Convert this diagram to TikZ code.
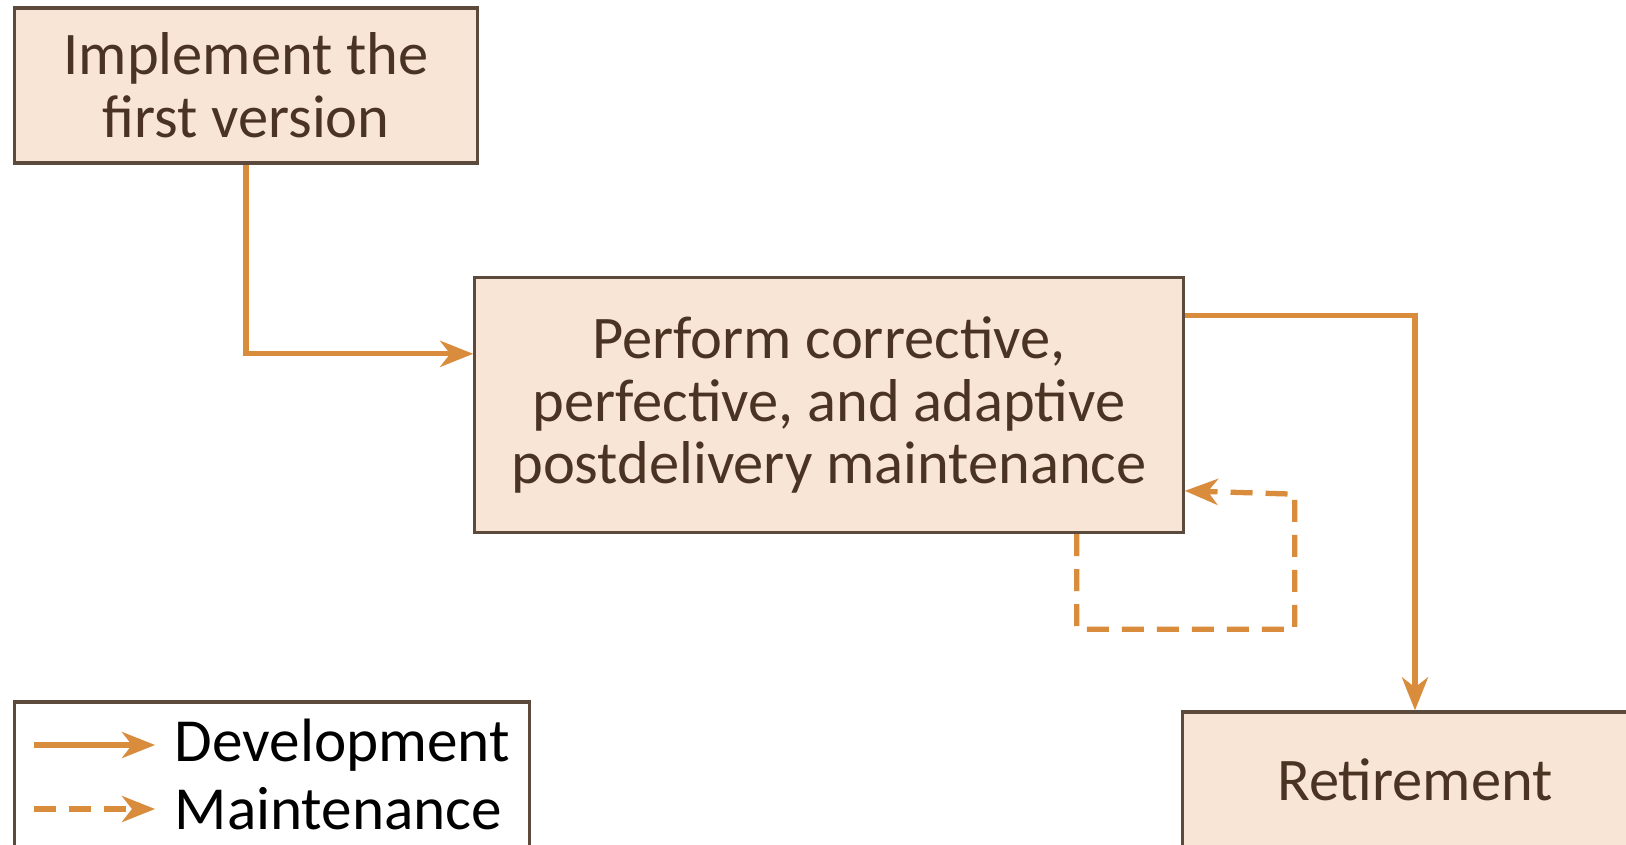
\documentclass[tikz,border=0pt]{standalone}
\usepackage{fontspec}
\setmainfont{Carlito}
\usetikzlibrary{arrows.meta,calc}

\definecolor{boxfill}{HTML}{F8E5D6}
\definecolor{boxline}{HTML}{5C4A3C}
\definecolor{flow}{HTML}{D98C3C}
\definecolor{boxtext}{HTML}{4A3322}

\tikzset{%
  every stage/.style={
    rectangle,
    draw=boxline,
    fill=boxfill,
    line width=0.9pt,
    text=boxtext,
    align=center,
    font=\fontsize{17.2}{17.9}\selectfont,
    inner sep=0pt
  },
  legend entry/.style={
    anchor=west,
    text=black,
    inner xsep=0.19cm,
    font=\fontsize{17.4}{17.9}\selectfont
  },
  dev/.style={
    draw=flow,
    line width=1.5pt,
    -{Stealth[length=3.3mm,width=2.6mm,inset=1mm]}
  },
  maint/.style={
    dev,
    dash pattern=on 2.2mm off 1.3mm
  },
}

\begin{document}
\begin{tikzpicture}[x=0.01cm, y=-0.01cm]
  \fill [white] (0,0) rectangle (1626,845);
  \useasboundingbox (0,0) rectangle (1626,845);

  \node [every stage, minimum width=4.62cm, minimum height=1.55cm] (implement) at (246,85.5)
    {Implement the\\first version};
  \node [every stage, minimum width=7.08cm, minimum height=2.55cm] (perform) at (829,405)
    {Perform corrective,\\perfective, and adaptive\\postdelivery maintenance};
  \node [every stage, minimum width=4.64cm, minimum height=1.36cm] (retire) at (1415,780)
    {Retirement};

  \draw [dev] (implement.south) |- ($(perform.north west)+(0,78)$);
  \draw [dev] ($(perform.north east)+(0,40)$) -| (retire.north);
  \draw [maint] ($(perform.south east)+(-108,0)$) -- ++(0,95) -| ++(218,-135)
    -- ($(perform.north east)+(0,215)$);

  \node [every stage, fill=white, minimum width=5.145cm, minimum height=1.6cm] (legend) at (271.75,782) {};
  \node [legend entry] (leg-dev) at (155,745) {Development};
  \node [legend entry] (leg-maint) at (155,809) {Maintenance};
  \coordinate (dev-start) at (34,745);
  \coordinate (maint-start) at (34,809);
  \draw [dev] (dev-start) -- (leg-dev.west);
  \draw [maint] (maint-start) -- (leg-maint.west);
\end{tikzpicture}
\end{document}
